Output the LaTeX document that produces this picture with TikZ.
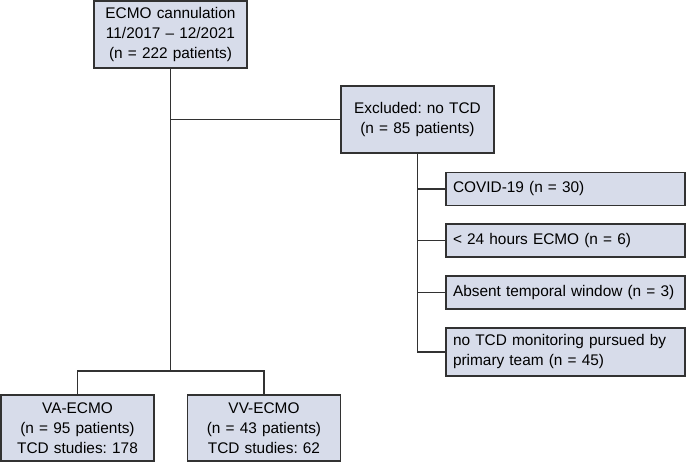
\documentclass[tikz,border=0pt]{standalone}
\usepackage{fontspec}
\setmainfont{Liberation Sans}
\usepackage{tikz}
\frenchspacing

\definecolor{boxfill}{RGB}{215,220,234}
\definecolor{boxdraw}{RGB}{50,50,50}

\tikzset{
  cbox/.style={draw=boxdraw, fill=boxfill, line width=1.6pt, align=center,
    text width=145pt, inner xsep=4pt, minimum height=#1, font=\fontsize{15.4}{20}\selectfont},
  lbox/.style={draw=boxdraw, fill=boxfill, line width=1.6pt, align=left,
    text width=225pt, inner xsep=7pt, minimum height=#1, font=\fontsize{15.4}{20}\selectfont},
  link/.style={draw=boxdraw, line width=1.5pt}
}

\begin{document}
\begin{tikzpicture}[x=1pt,y=1pt,yscale=-1,xscale=1]
\useasboundingbox (0,0) rectangle (686,463);

%Boxes
\node[cbox=67pt] (top) at (170.5,34.5) {ECMO cannulation\\11/2017 -- 12/2021\\(n = 222 patients)};
\node[cbox=67pt] (excl) at (417.5,119.5) {Excluded: no TCD\\(n = 85 patients)};

\node[lbox=33pt] (covid) at (565.5,189) {COVID-19 (n = 30)};
\node[lbox=33pt] (short) at (565.5,240.5) {< 24 hours ECMO (n = 6)};
\node[lbox=33pt] (absent) at (565.5,292.5) {Absent temporal window (n = 3)};
\node[lbox=48pt] (nomon) at (565.5,352) {no TCD monitoring pursued by\\primary team (n = 45)};

\node[cbox=66pt] (va) at (77.5,428) {VA-ECMO\\(n = 95 patients)\\TCD studies: 178};
\node[cbox=66pt] (vv) at (264,428) {VV-ECMO\\(n = 43 patients)\\TCD studies: 62};

%Lines
\coordinate (bus) at (170.5,371);
\draw[link] (top.south) -- (bus);
\draw[link] (top.south |- excl.west) -- (excl.west);
\draw[link] (va.north) |- (bus) -| (vv.north);

\draw[link] (excl.south) |- (nomon.west);
\foreach \n in {covid,short,absent}
  \draw[link] (excl.south |- \n.west) -- (\n.west);

\end{tikzpicture}
\end{document}
